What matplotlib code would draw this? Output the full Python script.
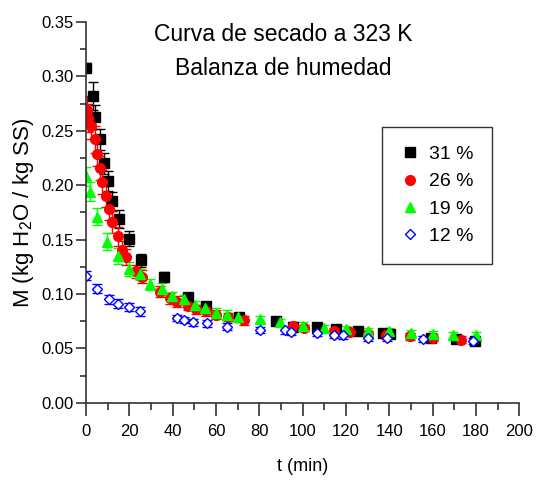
import numpy as np
import matplotlib
matplotlib.use('Agg')
import matplotlib.pyplot as plt
from matplotlib.ticker import MultipleLocator, FormatStrFormatter

plt.rcParams['font.family'] = ['Liberation Sans', 'DejaVu Sans']
plt.rcParams['mathtext.fontset'] = 'custom'
plt.rcParams['mathtext.rm'] = 'Liberation Sans'
plt.rcParams['mathtext.it'] = 'Liberation Sans'

# 31 % initial moisture
t_31 = [0, 3, 4, 6.5, 8.3, 10, 12, 15, 20, 25.5, 36, 47, 55.5, 70.5, 87.5,
        95.5, 106.5, 115.5, 125.5, 137, 140.5, 159.5, 171, 179.5]
m_31 = [0.308, 0.282, 0.263, 0.242, 0.220, 0.204, 0.185, 0.169, 0.151, 0.131,
        0.116, 0.097, 0.089, 0.079, 0.075, 0.070, 0.070, 0.068, 0.066, 0.064,
        0.063, 0.060, 0.059, 0.057]
e_31 = [0.004, 0.013, 0.011, 0.010, 0.010, 0.009, 0.009, 0.008, 0.007, 0.006,
        0.004, 0.004, 0.004, 0.003, 0.003, 0.003, 0.003, 0.003, 0.003, 0.003,
        0.003, 0.003, 0.003, 0.003]

# 26 %
t_26 = [0.3, 1.1, 2.3, 4.2, 5.2, 6.5, 7.5, 9.2, 10.8, 12.2, 14.6, 16.6, 18.5,
        23, 25.7, 34.2, 38.8, 42.2, 47.2, 50.8, 55.4, 60, 65.7, 73, 95.5,
        100.8, 114.6, 121.9, 130.3, 138.5, 149.6, 160.4, 173]
m_26 = [0.269, 0.262, 0.254, 0.242, 0.229, 0.216, 0.203, 0.190, 0.178, 0.166,
        0.153, 0.140, 0.134, 0.121, 0.116, 0.102, 0.096, 0.093, 0.089, 0.086,
        0.084, 0.081, 0.079, 0.076, 0.071, 0.069, 0.066, 0.065, 0.063, 0.062,
        0.061, 0.060, 0.058]
e_26 = [0.013, 0.013, 0.012, 0.012, 0.011, 0.011, 0.011, 0.010, 0.010, 0.010,
        0.009, 0.009, 0.007, 0.006, 0.006, 0.005, 0.005, 0.005, 0.004, 0.004,
        0.004, 0.004, 0.004, 0.004, 0.003, 0.003, 0.003, 0.003, 0.003, 0.003,
        0.003, 0.003, 0.003]

# 19 %
t_19 = [0, 1.8, 4.9, 9.5, 14.9, 20, 25, 29.5, 35, 39.6, 45, 50.3, 55, 60, 65,
        70, 80.3, 89.5, 100, 110, 120, 130, 140, 150, 160, 169.6, 180]
m_19 = [0.208, 0.194, 0.171, 0.148, 0.135, 0.123, 0.118, 0.109, 0.105, 0.098,
        0.095, 0.090, 0.087, 0.083, 0.081, 0.079, 0.077, 0.074, 0.071, 0.069,
        0.068, 0.066, 0.066, 0.064, 0.063, 0.062, 0.062]
e_19 = [0.009, 0.009, 0.008, 0.008, 0.007, 0.006, 0.005, 0.005, 0.005, 0.004,
        0.004, 0.004, 0.004, 0.004, 0.004, 0.003, 0.003, 0.003, 0.003, 0.003,
        0.003, 0.003, 0.003, 0.003, 0.003, 0.003, 0.003]

# 12 %
t_12 = [0, 4.9, 10.8, 14.9, 20, 25, 42, 45, 49.5, 55.7, 65, 80.3, 92, 94.5,
        106.5, 114.6, 118.5, 130, 138.8, 155.7, 178.8]
m_12 = [0.117, 0.105, 0.095, 0.091, 0.088, 0.084, 0.078, 0.076, 0.074, 0.073,
        0.070, 0.067, 0.0665, 0.065, 0.064, 0.0625, 0.062, 0.060, 0.0595,
        0.0585, 0.057]
e_12 = [0.004, 0.004, 0.004, 0.004, 0.004, 0.004, 0.003, 0.003, 0.003, 0.003,
        0.003, 0.003, 0.003, 0.003, 0.003, 0.003, 0.003, 0.003, 0.003, 0.003,
        0.003]

series = [
    (t_31, m_31, e_31, '31 %', 's', 'black', 'black', 6.5),
    (t_26, m_26, e_26, '26 %', 'o', '#ff0000', '#ff0000', 7),
    (t_19, m_19, e_19, '19 %', '^', '#00ff00', '#00ff00', 7.5),
    (t_12, m_12, e_12, '12 %', 'D', '#0000ff', 'white', 5.5),
]

fig = plt.figure(figsize=(5.38, 4.86), dpi=100)
ax = fig.add_axes([0.160, 0.171, 0.805, 0.784])

handles = []
for t, m, e, lab, mk, col, face, ms in series:
    cont = ax.errorbar(t, m, yerr=e, fmt=mk, color=col, mfc=face, mec=col,
                       ms=ms, mew=1.0, ecolor=col, elinewidth=1.0,
                       capsize=3.5, capthick=1.0, label=lab)
    # legend shows the marker only, no error bar
    handles.append(cont.lines[0])

ax.set_xlim(0, 200)
ax.set_ylim(0, 0.35)
ax.xaxis.set_major_locator(MultipleLocator(20))
ax.xaxis.set_minor_locator(MultipleLocator(10))
ax.yaxis.set_major_locator(MultipleLocator(0.05))
ax.yaxis.set_minor_locator(MultipleLocator(0.025))
ax.yaxis.set_major_formatter(FormatStrFormatter('%.2f'))

for s in ['top', 'right']:
    ax.spines[s].set_visible(False)
for s in ['left', 'bottom']:
    ax.spines[s].set_linewidth(1.2)
    ax.spines[s].set_color('#333333')

ax.tick_params(axis='x', which='major', direction='out', length=9, width=1.2,
               labelsize=12, pad=6, color='#333333')
ax.tick_params(axis='x', which='minor', direction='out', length=5, width=1.2,
               color='#333333')
ax.tick_params(axis='y', which='major', direction='out', length=7, width=1.2,
               labelsize=12, pad=2, color='#333333')
ax.tick_params(axis='y', which='minor', direction='out', length=4, width=1.2,
               color='#333333')

ax.set_xlabel('t (min)', fontsize=13, labelpad=14)
ax.set_ylabel('M (kg H$_2$O / kg SS)', fontsize=16, labelpad=4)

ax.text(0.455, 0.968, 'Curva de secado a 323 K', transform=ax.transAxes,
        ha='center', va='center', fontsize=16.5)
ax.text(0.455, 0.878, 'Balanza de humedad', transform=ax.transAxes,
        ha='center', va='center', fontsize=16.5)

leg = ax.legend(handles, [s[3] for s in series], loc='upper left',
                bbox_to_anchor=(0.684, 0.724), fontsize=14,
                frameon=True, fancybox=False, edgecolor='black',
                borderpad=0.95, labelspacing=0.5, handletextpad=0.55,
                handlelength=0.9, borderaxespad=0)
leg.get_frame().set_linewidth(1.0)

fig.savefig('out.png', dpi=100)
